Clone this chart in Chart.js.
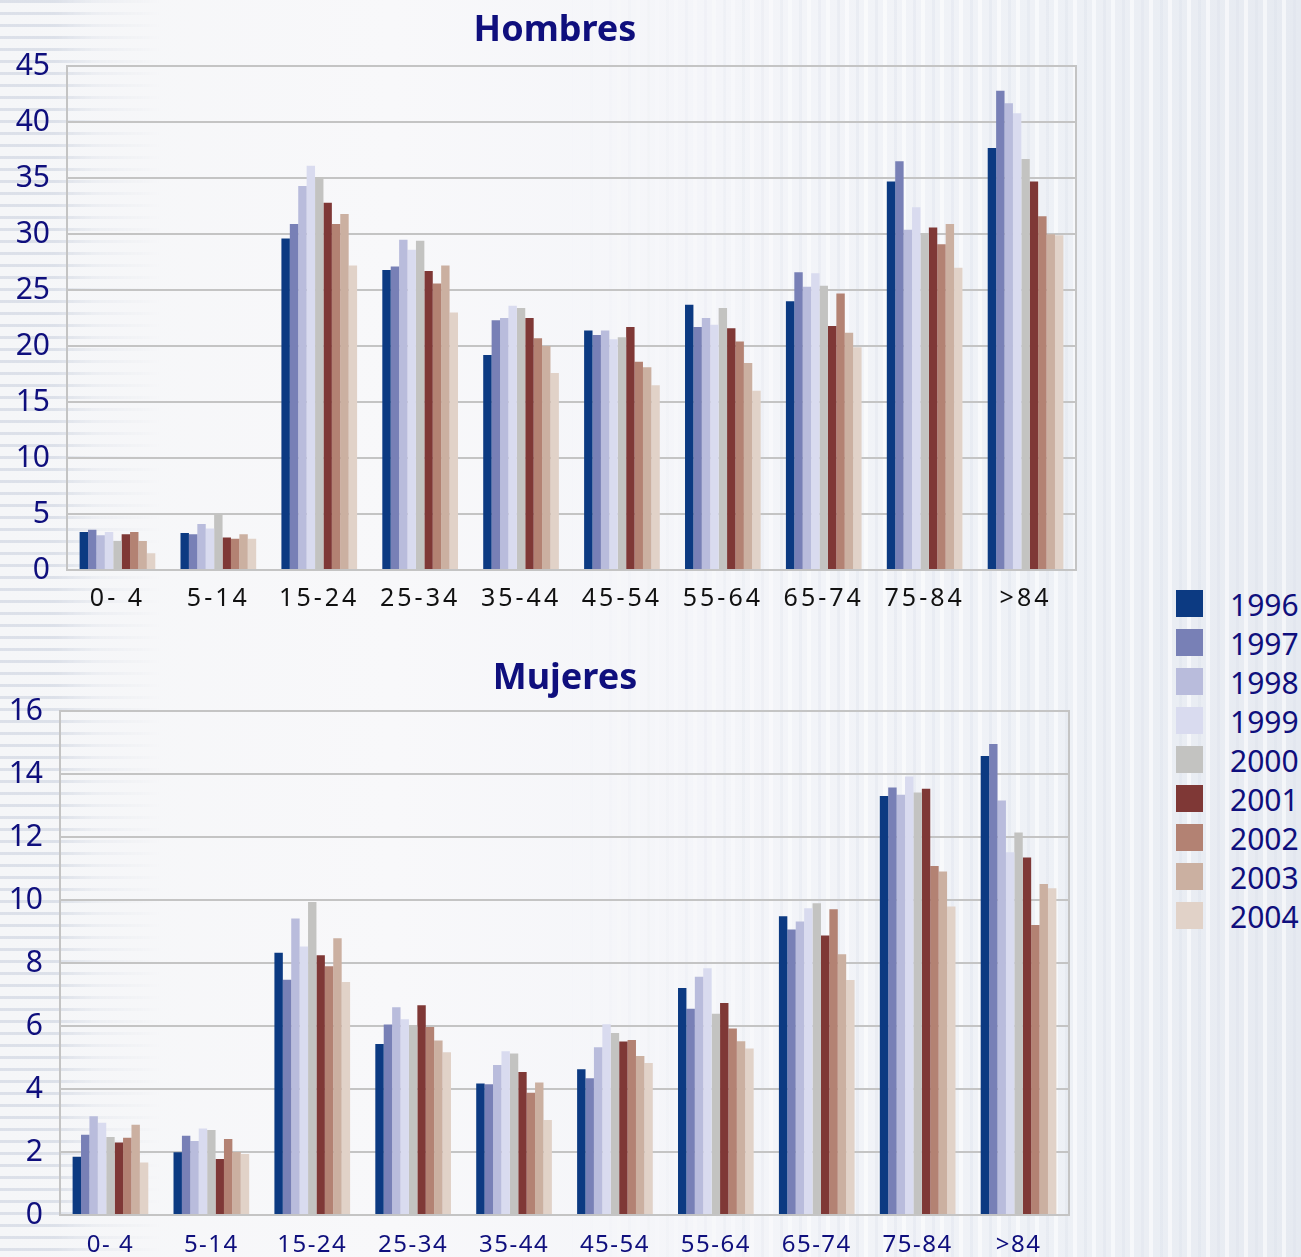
<!DOCTYPE html>
<html>
<head>
<meta charset="utf-8">
<script src="https://cdn.jsdelivr.net/npm/chart.js@4"></script>
<style>
  html, body { margin: 0; padding: 0; }
  body {
    width: 1301px; height: 1257px; position: relative; overflow: hidden;
    background: linear-gradient(90deg, #f5f6f8 0%, #f8f8fa 30%, #f4f5f9 55%, #eef1f6 80%, #e6eaf1 100%);
    font-family: "Noto Sans", sans-serif;
  }
  .stripes-left {
    position: absolute; left: 0; top: 0; width: 160px; height: 100%;
    background: repeating-linear-gradient(180deg, rgba(214,219,229,0.8) 0 3px, transparent 3px 12px);
    -webkit-mask-image: linear-gradient(90deg, #000 0%, #000 35%, rgba(0,0,0,0.35) 60%, transparent 100%);
  }
  .stripes-right {
    position: absolute; left: 560px; top: 0; width: 741px; height: 100%;
    background: repeating-linear-gradient(90deg, rgba(255,255,255,0.55) 0 4px, transparent 4px 11px, rgba(220,225,235,0.35) 11px 14px, transparent 14px 19px);
    -webkit-mask-image: linear-gradient(90deg, transparent 0%, #000 40%);
  }
  canvas { position: absolute; left: 0; }
  #top { top: 2px; }
  #bottom { top: 630px; }
  #legend { position: absolute; left: 1176px; top: 585px; }
  .row { height: 39px; line-height: 39px; font-size: 30px; color: #0f0f7d; white-space: nowrap; }
  .box { display: inline-block; width: 27px; height: 27px; vertical-align: top; margin-top: 5px; margin-right: 27px; }
</style>
</head>
<body>
<div class="stripes-left"></div>
<div class="stripes-right"></div>
<canvas id="top" width="1110" height="625"></canvas>
<canvas id="bottom" width="1130" height="627"></canvas>
<div id="legend"></div>
<script>
const ageGroups = ["0- 4", "5-14", "15-24", "25-34", "35-44", "45-54", "55-64", "65-74", "75-84", ">84"];
const years = ["1996", "1997", "1998", "1999", "2000", "2001", "2002", "2003", "2004"];
const yearColors = ["#0c3a82", "#7880b6", "#b9bcdc", "#d9dbef", "#c3c3c1", "#7f3836", "#b38273", "#cbb0a1", "#e1d2c8"];

// Hombres, one row per year (1996 .. 2004)
const hombres = [
  [3.4, 3.3, 29.6, 26.8, 19.2, 21.4, 23.7, 24.0, 34.7, 37.7],
  [3.6, 3.2, 30.9, 27.1, 22.3, 21.0, 21.7, 26.6, 36.5, 42.8],
  [3.1, 4.1, 34.3, 29.5, 22.5, 21.4, 22.5, 25.3, 30.4, 41.7],
  [3.4, 3.7, 36.1, 28.6, 23.6, 20.6, 21.9, 26.5, 32.4, 40.8],
  [2.6, 5.0, 35.1, 29.4, 23.4, 20.8, 23.4, 25.4, 30.1, 36.7],
  [3.2, 2.9, 32.8, 26.7, 22.5, 21.7, 21.6, 21.8, 30.6, 34.7],
  [3.4, 2.8, 30.9, 25.6, 20.7, 18.6, 20.4, 24.7, 29.1, 31.6],
  [2.6, 3.2, 31.8, 27.2, 20.0, 18.1, 18.5, 21.2, 30.9, 30.0],
  [1.5, 2.8, 27.2, 23.0, 17.6, 16.5, 16.0, 19.9, 27.0, 29.9],
];

// Mujeres, one row per year (1996 .. 2004)
const mujeres = [
  [1.85, 1.99, 8.33, 5.43, 4.18, 4.63, 7.21, 9.49, 13.31, 14.58],
  [2.55, 2.52, 7.47, 6.05, 4.15, 4.34, 6.55, 9.07, 13.58, 14.96],
  [3.14, 2.35, 9.42, 6.60, 4.76, 5.33, 7.57, 9.32, 13.35, 13.16],
  [2.93, 2.75, 8.53, 6.22, 5.20, 6.06, 7.84, 9.74, 13.93, 11.52],
  [2.48, 2.70, 9.94, 6.03, 5.13, 5.78, 6.39, 9.90, 13.42, 12.15],
  [2.30, 1.78, 8.25, 6.66, 4.54, 5.51, 6.73, 8.88, 13.54, 11.35],
  [2.45, 2.41, 7.90, 5.97, 3.88, 5.56, 5.92, 9.71, 11.08, 9.21],
  [2.87, 2.00, 8.79, 5.54, 4.21, 5.05, 5.52, 8.28, 10.91, 10.51],
  [1.67, 1.94, 7.40, 5.17, 3.02, 4.83, 5.29, 7.46, 9.80, 10.38],
];

const hombresTicks = { max: 45, step: 5 };
const mujeresTicks = { max: 16, step: 2 };

const navy = "#0f0f7d";
const gridGray = "#c4c4c4";

// Chart.js has no letter-spacing option, so wrap the x scale label drawing
const spacedLabels = {
  id: "spacedLabels",
  afterUpdate(chart, args, opts) {
    const scale = chart.scales.x;
    if (scale._spaced) return;
    const draw = scale.drawLabels;
    scale.drawLabels = function (area) {
      this.ctx.save();
      this.ctx.letterSpacing = opts.spacing + "px";
      draw.call(this, area);
      this.ctx.restore();
    };
    scale._spaced = true;
  },
};

function makeChart(id, title, rows, ticks, s) {
  const datasets = rows.map((values, i) => ({
    label: years[i],
    data: values,
    backgroundColor: yearColors[i],
    borderWidth: 0,
    categoryPercentage: 0.75,
    barPercentage: 1.0,
  }));

  return new Chart(document.getElementById(id), {
    type: "bar",
    data: { labels: ageGroups, datasets: datasets },
    plugins: [spacedLabels],
    options: {
      responsive: false,
      animation: false,
      devicePixelRatio: 1,
      layout: { padding: 0, autoPadding: false },
      plugins: {
        legend: { display: false },
        tooltip: { enabled: false },
        spacedLabels: { spacing: s.spacing },
        title: {
          display: true,
          text: title,
          color: navy,
          font: { family: "Noto Sans", size: 36, weight: "bold" },
          padding: { top: s.titleTop, bottom: s.titleBottom },
        },
      },
      scales: {
        x: {
          grid: { display: false, drawTicks: false },
          border: { color: gridGray, width: 2 },
          ticks: {
            color: s.xColor,
            font: { family: "Noto Sans", size: s.xSize },
            padding: s.xPad,
            maxRotation: 0,
            autoSkip: false,
          },
          afterFit: (scale) => { scale.height = s.xHeight; },
        },
        y: {
          min: 0,
          max: ticks.max,
          grid: { color: gridGray, lineWidth: 2, drawTicks: false },
          border: { color: gridGray, width: 2 },
          ticks: {
            stepSize: ticks.step,
            color: navy,
            font: { family: "Noto Sans", size: 30 },
            padding: 17,
          },
          afterFit: (scale) => { scale.width = s.yWidth; },
        },
        y2: {
          position: "right",
          min: 0,
          max: ticks.max,
          grid: { drawOnChartArea: false, drawTicks: false },
          border: { color: gridGray, width: 2 },
          ticks: { display: false },
          afterFit: (scale) => { scale.width = s.rightWidth; },
        },
      },
    },
  });
}

makeChart("top", "Hombres", hombres, hombresTicks, {
  titleTop: 7, titleBottom: 14, xPad: 14, xHeight: 57, yWidth: 67, rightWidth: 34,
  xColor: "#111111", xSize: 25, spacing: 3,
});

makeChart("bottom", "Mujeres", mujeres, mujeresTicks, {
  titleTop: 27, titleBottom: 11, xPad: 16, xHeight: 42, yWidth: 60, rightWidth: 61,
  xColor: navy, xSize: 24, spacing: 1.5,
});

// shared legend
const legend = document.getElementById("legend");
years.forEach((year, i) => {
  const row = document.createElement("div");
  row.className = "row";
  const box = document.createElement("span");
  box.className = "box";
  box.style.background = yearColors[i];
  row.appendChild(box);
  row.appendChild(document.createTextNode(year));
  legend.appendChild(row);
});
</script>
</body>
</html>
